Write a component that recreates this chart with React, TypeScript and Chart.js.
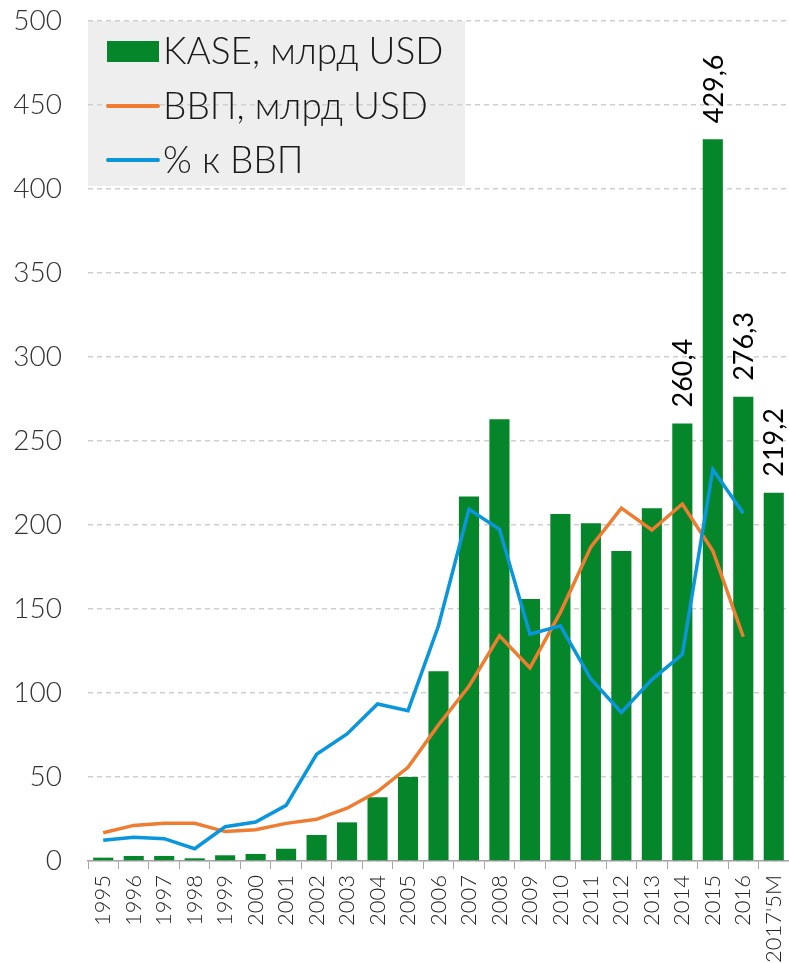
import React, { useEffect, useRef } from "react";
import { Chart, registerables } from "chart.js";

Chart.register(...registerables);

const categories = ["1995", "1996", "1997", "1998", "1999", "2000", "2001", "2002", "2003", "2004", "2005", "2006", "2007", "2008", "2009", "2010", "2011", "2012", "2013", "2014", "2015", "2016", "2017'5M"];
const kase = [2, 3, 3, 1.6, 3.4, 4.2, 7.3, 15.5, 23, 38, 50, 113, 217, 263, 156, 206.5, 201, 184.5, 210, 260.4, 429.6, 276.3, 219.2];
const gdp = [16.8, 21.2, 22.4, 22.4, 17.5, 18.6, 22.4, 24.8, 31.4, 41.3, 55.8, 81, 104, 134, 115, 148, 187, 210, 197, 212.5, 184.7, 133.5, null];
const pctGdp = [12.3, 14.1, 13.3, 7.3, 20.4, 23.2, 33.1, 63.5, 75.6, 93.5, 89.5, 140, 209.3, 197.4, 135, 140, 108.3, 88.5, 108, 123, 233, 207, null];
const labeledCategories = ["2014", "2015", "2016", "2017'5M"];
const seriesNames = ["KASE, млрд USD", "ВВП, млрд USD", "% к ВВП"];
const yTicks = [0, 50, 100, 150, 200, 250, 300, 350, 400, 450, 500];

const GREEN = "#06862a";
const ORANGE = "#ee7d31";
const BLUE = "#0a96dc";
const FONT = "Lato, 'Open Sans', sans-serif";

const legendPlugin = {
  id: "customLegend",
  beforeDraw(chart: any) {
    const { ctx, chartArea } = chart;
    ctx.save();
    ctx.fillStyle = "#eeeeee";
    ctx.fillRect(chartArea.left, chartArea.top, 377, 165);
    ctx.restore();
  },
  beforeDatasetsDraw(chart: any) {
    const { ctx, chartArea } = chart;
    const x0 = chartArea.left + 19;
    const rows = [chartArea.top + 30, chartArea.top + 85, chartArea.top + 139];
    ctx.save();
    ctx.fillStyle = GREEN;
    ctx.fillRect(x0, rows[0] - 10, 52, 21);
    ctx.lineWidth = 4;
    ctx.lineCap = "round";
    ctx.strokeStyle = ORANGE;
    ctx.beginPath();
    ctx.moveTo(x0 + 1, rows[1]);
    ctx.lineTo(x0 + 51, rows[1]);
    ctx.stroke();
    ctx.strokeStyle = BLUE;
    ctx.beginPath();
    ctx.moveTo(x0 + 1, rows[2]);
    ctx.lineTo(x0 + 51, rows[2]);
    ctx.stroke();
    ctx.fillStyle = "#1a1a1a";
    ctx.font = `300 37px ${FONT}`;
    ctx.textAlign = "left";
    ctx.textBaseline = "middle";
    seriesNames.forEach((n, i) => ctx.fillText(n, x0 + 56, rows[i] + 1));
    ctx.restore();
  },
};

const barLabelPlugin = {
  id: "barLabels",
  afterDatasetsDraw(chart: any) {
    const { ctx } = chart;
    const meta = chart.getDatasetMeta(0);
    ctx.save();
    ctx.fillStyle = "#000000";
    ctx.font = `400 27px ${FONT}`;
    ctx.textAlign = "left";
    ctx.textBaseline = "middle";
    meta.data.forEach((bar: any, i: number) => {
      if (!labeledCategories.includes(categories[i])) return;
      const txt = kase[i].toFixed(1).replace(".", ",");
      ctx.save();
      ctx.translate(bar.x + 1, bar.y - 16);
      ctx.rotate(-Math.PI / 2);
      ctx.fillText(txt, 0, 0);
      ctx.restore();
    });
    ctx.restore();
  },
};

export default function App() {
  const ref = useRef<HTMLCanvasElement>(null);
  useEffect(() => {
    if (!ref.current) return;
    const chart = new Chart(ref.current, {
      type: "bar",
      data: {
        labels: categories,
        datasets: [
          {
            type: "bar",
            label: seriesNames[0],
            data: kase,
            backgroundColor: GREEN,
            borderWidth: 0,
            categoryPercentage: 1,
            barPercentage: 0.66,
            order: 3,
          },
          {
            type: "line",
            label: seriesNames[1],
            data: gdp,
            borderColor: ORANGE,
            borderWidth: 3.5,
            pointRadius: 0,
            tension: 0,
            order: 2,
          },
          {
            type: "line",
            label: seriesNames[2],
            data: pctGdp,
            borderColor: BLUE,
            borderWidth: 3.5,
            pointRadius: 0,
            tension: 0,
            order: 1,
          },
        ] as any,
      },
      options: {
        animation: false,
        responsive: false,
        maintainAspectRatio: false,
        layout: { padding: { left: 0, right: 0, top: 21, bottom: 0 } },
        plugins: { legend: { display: false }, tooltip: { enabled: false } },
        scales: {
          x: {
            grid: { display: true, drawOnChartArea: false, drawTicks: true, tickLength: 8, color: "#a6a6a6", offset: true },
            border: { display: true, color: "#a6a6a6", width: 1.5 },
            ticks: {
              minRotation: 90,
              maxRotation: 90,
              autoSkip: false,
              padding: 6,
              color: "#222222",
              font: { family: FONT, size: 22, weight: "300" as any },
            },
            afterFit(scale: any) {
              scale.height = 102;
              scale.paddingLeft = 0;
              scale.paddingRight = 0;
            },
          },
          y: {
            min: 0,
            max: 500,
            afterBuildTicks(scale: any) {
              scale.ticks = yTicks.map((v) => ({ value: v }));
            },
            grid: { color: "#cfcfcf", lineWidth: 1.5, drawTicks: false },
            border: { display: false, dash: [5, 4] },
            ticks: {
              padding: 26,
              color: "#333333",
              font: { family: FONT, size: 28, weight: "300" as any },
            },
            afterFit(scale: any) {
              scale.width = 88;
              scale.paddingTop = 0;
              scale.paddingBottom = 0;
            },
          },
        },
      },
      plugins: [legendPlugin, barLabelPlugin],
    });
    return () => chart.destroy();
  }, []);
  return (
    <div style={{ position: "fixed", left: 0, top: 0, width: 789, height: 963, background: "#fff" }}>
      <canvas ref={ref} width={789} height={963} style={{ width: 789, height: 963, display: "block" }} />
    </div>
  );
}
